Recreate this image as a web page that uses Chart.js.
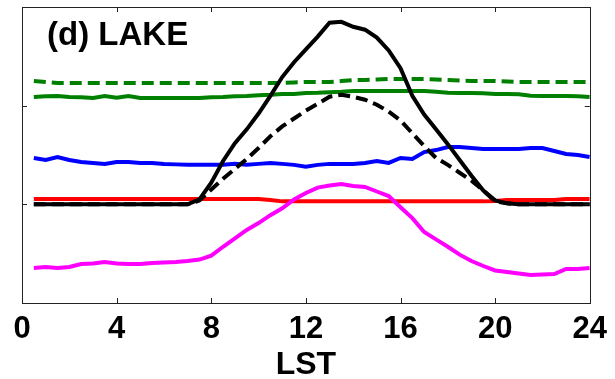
<!DOCTYPE html>
<html>
<head>
<meta charset="utf-8">
<script src="https://cdn.jsdelivr.net/npm/chart.js@4/dist/chart.umd.min.js"></script>
<style>
  body { margin: 0; background: #fff; }
  #lake_chart { display: block; }
</style>
</head>
<body>
<canvas id="lake_chart" width="615" height="379"></canvas>
<script>
// hours (LST) of each sample
var hours = [0.5, 1, 1.5, 2, 2.5, 3, 3.5, 4, 4.5, 5, 5.5, 6, 6.5, 7, 7.5, 8,
  8.5, 9, 9.5, 10, 10.5, 11, 11.5, 12, 12.5, 13, 13.5, 14, 14.5, 15, 15.5, 16,
  16.5, 17, 17.5, 18, 18.5, 19, 19.5, 20, 20.5, 21, 21.5, 22, 22.5, 23, 23.5, 24];

var x_ticks = [0, 4, 8, 12, 16, 20, 24];
var y_ticks = [-1, 0, 1, 2];

var black_solid = [0, 0, 0, 0, 0, 0, 0, 0, 0, 0, 0, 0, 0, 0,
  0.05, 0.22, 0.44, 0.62, 0.76, 0.92, 1.10, 1.29, 1.44, 1.57, 1.70, 1.84, 1.85,
  1.80, 1.77, 1.69, 1.56, 1.38, 1.10, 0.91, 0.76, 0.61, 0.45, 0.29, 0.14, 0.04, 0.01,
  0, 0, 0, 0, 0, 0, 0];

var black_dashed = [0, 0, 0, 0, 0, 0, 0, 0, 0, 0, 0, 0, 0, 0,
  0.04, 0.15, 0.26, 0.36, 0.46, 0.57, 0.69, 0.79, 0.87, 0.95, 1.02, 1.09, 1.11,
  1.09, 1.06, 1.01, 0.94, 0.85, 0.72, 0.59, 0.47, 0.40, 0.32, 0.24, 0.14, 0.03, 0.01,
  0, 0, 0, 0, 0, 0, 0];

var magenta_line = [-0.645, -0.635, -0.645, -0.635, -0.605, -0.600, -0.585, -0.600,
  -0.605, -0.605, -0.595, -0.590, -0.584, -0.574, -0.560, -0.52, -0.43, -0.345,
  -0.26, -0.19, -0.11, -0.04, 0.05, 0.115, 0.17, 0.19, 0.206, 0.186, 0.176, 0.13,
  0.084, -0.03, -0.14, -0.28, -0.355, -0.43, -0.51, -0.575, -0.625, -0.67, -0.686,
  -0.70, -0.716, -0.71, -0.706, -0.655, -0.655, -0.645];

var red_line = [0.054, 0.054, 0.054, 0.054, 0.054, 0.054, 0.054, 0.054, 0.054, 0.054,
  0.054, 0.054, 0.054, 0.054, 0.054, 0.054, 0.054, 0.054, 0.054, 0.054,
  0.045, 0.03, 0.03, 0.03, 0.03, 0.03, 0.03, 0.03, 0.03, 0.03, 0.03, 0.03,
  0.03, 0.03, 0.03, 0.03, 0.03, 0.03, 0.03, 0.035, 0.044, 0.044, 0.044, 0.044,
  0.044, 0.054, 0.054, 0.054];

var blue_line = [0.47, 0.45, 0.48, 0.45, 0.43, 0.42, 0.41, 0.43, 0.43, 0.42,
  0.42, 0.41, 0.405, 0.40, 0.40, 0.40, 0.40, 0.41, 0.40, 0.41,
  0.42, 0.41, 0.40, 0.38, 0.40, 0.41, 0.41, 0.41, 0.42, 0.44,
  0.42, 0.47, 0.46, 0.53, 0.55, 0.58, 0.58, 0.57, 0.56, 0.56,
  0.56, 0.56, 0.57, 0.57, 0.54, 0.51, 0.50, 0.48];

var green_solid = [1.088, 1.095, 1.098, 1.088, 1.085, 1.078, 1.098, 1.08, 1.098, 1.078,
  1.078, 1.078, 1.078, 1.078, 1.078, 1.085, 1.088, 1.095, 1.098, 1.105,
  1.11, 1.118, 1.118, 1.128, 1.13, 1.135, 1.14, 1.149, 1.149, 1.149,
  1.149, 1.149, 1.149, 1.149, 1.14, 1.13, 1.128, 1.128, 1.125, 1.118,
  1.118, 1.115, 1.10, 1.098, 1.098, 1.098, 1.095, 1.088];

var green_dashed = [1.25, 1.24, 1.23, 1.23, 1.23, 1.23, 1.23, 1.23, 1.23, 1.23,
  1.23, 1.23, 1.23, 1.23, 1.23, 1.23, 1.23, 1.23, 1.23, 1.23,
  1.23, 1.23, 1.235, 1.24, 1.24, 1.24, 1.25, 1.26, 1.26, 1.265,
  1.27, 1.27, 1.27, 1.27, 1.265, 1.26, 1.255, 1.25, 1.25, 1.25,
  1.245, 1.24, 1.24, 1.24, 1.24, 1.24, 1.24, 1.24];

var panel_label = '(d) LAKE';
var x_title = 'LST';

var font_family = '"Liberation Sans", Arial, sans-serif';

var to_points = function(values) {
  var points = [];
  for (var i = 0; i < hours.length; i++) {
    points.push({x: hours[i], y: values[i]});
  }
  return points;
};

var make_line = function(values, color, dashed) {
  return {
    data: to_points(values),
    borderColor: color,
    backgroundColor: color,
    borderWidth: 4,
    borderDash: dashed ? [12, 6] : [],
    pointRadius: 0,
    fill: false,
    tension: 0
  };
};

// box, inward ticks on all four sides, panel label
var frame_plugin = {
  id: 'frame',
  afterDatasetsDraw: function(chart) {
    var ctx = chart.ctx;
    var a = chart.chartArea;
    var xs = chart.scales.x;
    var ys = chart.scales.y;
    var tl = 5;
    ctx.save();
    ctx.strokeStyle = '#222';
    ctx.lineWidth = 1;
    ctx.strokeRect(Math.round(a.left) + 0.5, Math.round(a.top) + 0.5,
      Math.round(a.right - a.left), Math.round(a.bottom - a.top));
    ctx.beginPath();
    for (var i = 0; i < x_ticks.length; i++) {
      var px = Math.round(xs.getPixelForValue(x_ticks[i])) + 0.5;
      ctx.moveTo(px, a.bottom);
      ctx.lineTo(px, a.bottom - tl);
      ctx.moveTo(px, a.top);
      ctx.lineTo(px, a.top + tl);
    }
    for (var j = 0; j < y_ticks.length; j++) {
      var py = Math.round(ys.getPixelForValue(y_ticks[j])) + 0.5;
      ctx.moveTo(a.left, py);
      ctx.lineTo(a.left + tl, py);
      ctx.moveTo(a.right, py);
      ctx.lineTo(a.right - tl, py);
    }
    ctx.stroke();

    ctx.fillStyle = '#000';
    ctx.font = 'bold 33px ' + font_family;
    ctx.textBaseline = 'alphabetic';
    ctx.textAlign = 'left';
    ctx.fillText(panel_label, a.left + 25, a.top + 38);
    ctx.restore();
  }
};

var init_chart = function() {
  var canvas = document.getElementById('lake_chart').getContext('2d');

  new Chart(canvas, {
    type: 'line',
    data: {
      datasets: [
        make_line(black_solid, '#000000', false),
        make_line(black_dashed, '#000000', true),
        make_line(magenta_line, '#ff00ff', false),
        make_line(red_line, '#ff0000', false),
        make_line(blue_line, '#0000ff', false),
        make_line(green_solid, '#008000', false),
        make_line(green_dashed, '#008000', true)
      ]
    },
    options: {
      responsive: false,
      animation: false,
      layout: {padding: {left: 22, right: 18, top: 7, bottom: 0}},
      plugins: {
        legend: {display: false},
        tooltip: {enabled: false}
      },
      scales: {
        x: {
          type: 'linear',
          min: 0,
          max: 24,
          grid: {display: false, drawTicks: false},
          border: {display: false},
          afterBuildTicks: function(scale) {
            scale.ticks = x_ticks.map(function(v) { return {value: v}; });
          },
          afterFit: function(scale) {
            scale.height = 76;
          },
          ticks: {
            padding: 8,
            color: '#000',
            maxRotation: 0,
            font: {family: font_family, size: 31, weight: 'bold'}
          },
          title: {
            display: true,
            text: x_title,
            color: '#000',
            padding: {top: 0, bottom: -5},
            font: {family: font_family, size: 32, weight: 'bold'}
          }
        },
        y: {
          min: -1,
          max: 2,
          display: false
        }
      }
    },
    plugins: [frame_plugin]
  });
};

init_chart();
</script>
</body>
</html>
